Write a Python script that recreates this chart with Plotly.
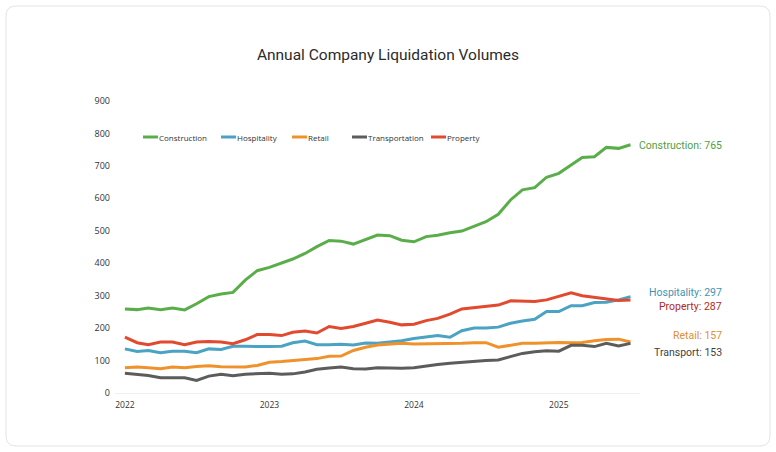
import plotly.graph_objects as go
import pandas as pd

dates = pd.date_range("2022-01-01", "2025-07-01", freq="MS")

construction = [259, 257, 262, 257, 262, 256, 275, 297, 305, 310,
                348, 377, 387, 400, 413, 430, 451, 470, 468, 459,
                474, 487, 485, 471, 466, 482, 486, 494, 499, 513,
                528, 551, 595, 626, 633, 665, 677, 703, 726, 728,
                757, 754, 765]
hospitality = [136, 128, 131, 124, 129, 129, 124, 136, 134, 144,
               144, 143, 143, 144, 155, 160, 149, 149, 150, 148,
               154, 153, 157, 161, 168, 172, 177, 172, 192, 200,
               200, 203, 215, 222, 227, 251, 251, 269, 269, 279,
               280, 287, 297]
retail = [78, 80, 78, 75, 80, 78, 82, 84, 81, 81,
          80, 85, 95, 97, 100, 102, 106, 113, 114, 131,
          141, 148, 151, 153, 151, 151, 152, 151, 153, 155,
          155, 141, 146, 153, 153, 155, 156, 155, 156, 161,
          165, 166, 157]
transport = [61, 57, 54, 47, 47, 47, 39, 52, 58, 53,
             58, 59, 61, 58, 59, 65, 73, 77, 80, 75,
             74, 78, 76, 76, 78, 84, 88, 92, 95, 99,
             100, 102, 112, 122, 127, 130, 129, 147, 147, 143,
             153, 145, 153]
property_ = [172, 155, 149, 157, 157, 149, 157, 159, 157, 152,
             164, 180, 180, 177, 187, 191, 185, 205, 199, 205,
             215, 225, 218, 210, 212, 223, 230, 243, 259, 263,
             269, 271, 284, 282, 282, 287, 297, 309, 300, 295,
             289, 285, 287]

series_names = ["Construction", "Hospitality", "Retail", "Transportation", "Property"]
series_values = [construction, hospitality, retail, transport, property_]
line_colors = ["#5aae4a", "#4aa3c2", "#f0922c", "#5c5c5c", "#e14a2e"]
end_labels = ["Construction", "Hospitality", "Retail", "Transport", "Property"]
label_colors = ["#4f9f40", "#3f94b5", "#e0902f", "#3f3f3f", "#b42a22"]
label_yshift = [-1, 4, 7, -9, -7]
y_ticks = list(range(0, 1000, 100))

W, H = 776, 452
L, R, T, B = 115, 136, 101, 59
PW, PH = W - L - R, H - T - B


def px_x(px):
    return (px - L) / PW


def px_y(py):
    return (H - B - py) / PH


fig = go.Figure()
for name, vals, col in zip(series_names, series_values, line_colors):
    fig.add_trace(go.Scatter(x=dates, y=vals, mode="lines", name=name,
                             line=dict(color=col, width=3), showlegend=False))

shapes = []
annotations = []

# card border with rounded corners
x0, x1, y0, y1 = px_x(6), px_x(770), px_y(446), px_y(6)
rx, ry = 10 / PW, 10 / PH
path = (f"M {x0+rx},{y0} L {x1-rx},{y0} Q {x1},{y0} {x1},{y0+ry} "
        f"L {x1},{y1-ry} Q {x1},{y1} {x1-rx},{y1} L {x0+rx},{y1} "
        f"Q {x0},{y1} {x0},{y1-ry} L {x0},{y0+ry} Q {x0},{y0} {x0+rx},{y0} Z")
shapes.append(dict(type="path", xref="paper", yref="paper", path=path,
                   line=dict(color="#e3e3e3", width=1), fillcolor="rgba(0,0,0,0)",
                   layer="below"))

# manual legend
legend_px = [143, 221, 292, 352, 431]
ly = px_y(137)
for name, col, lx in zip(series_names, line_colors, legend_px):
    shapes.append(dict(type="line", xref="paper", yref="paper",
                       x0=px_x(lx), x1=px_x(lx + 15), y0=ly, y1=ly,
                       line=dict(color=col, width=3)))
    annotations.append(dict(x=px_x(lx + 15), y=ly, xref="paper", yref="paper",
                            text=name, showarrow=False, xanchor="left",
                            yanchor="middle", xshift=-1,
                            font=dict(family="Open Sans", size=8, color="#333")))

# end labels
for lab, vals, col, ys in zip(end_labels, series_values, label_colors, label_yshift):
    annotations.append(dict(x=px_x(724), y=vals[-1], xref="paper", yref="y",
                            text=f"{lab}: {vals[-1]}", showarrow=False,
                            xanchor="right", yanchor="middle", yshift=ys,
                            font=dict(family="Roboto", size=10.5, color=col)))

fig.update_layout(
    width=W, height=H,
    margin=dict(l=L, r=R, t=T, b=B),
    paper_bgcolor="white", plot_bgcolor="white",
    title=dict(text="Annual Company Liquidation Volumes", x=0.5, xref="container",
               xanchor="center", y=1 - 55 / H, yanchor="middle",
               font=dict(family="Roboto", size=15.5, color="#2b2b2b")),
    shapes=shapes, annotations=annotations,
    showlegend=False,
    xaxis=dict(type="date", range=["2021-12-07", "2025-07-25"],
               tickformat="%Y", dtick="M12", tick0="2022-01-01",
               showgrid=False, zeroline=False, showline=False, ticks="",
               ticklabelstandoff=5,
               tickfont=dict(family="Open Sans", size=8.5, color="#333")),
    yaxis=dict(range=[0, 900], tickvals=y_ticks, showgrid=False,
               zeroline=True, zerolinecolor="#eeeeee", zerolinewidth=1,
               showline=False, ticks="", ticklabelstandoff=4,
               tickfont=dict(family="Open Sans", size=9, color="#333")),
)
fig.write_html("out.html")
